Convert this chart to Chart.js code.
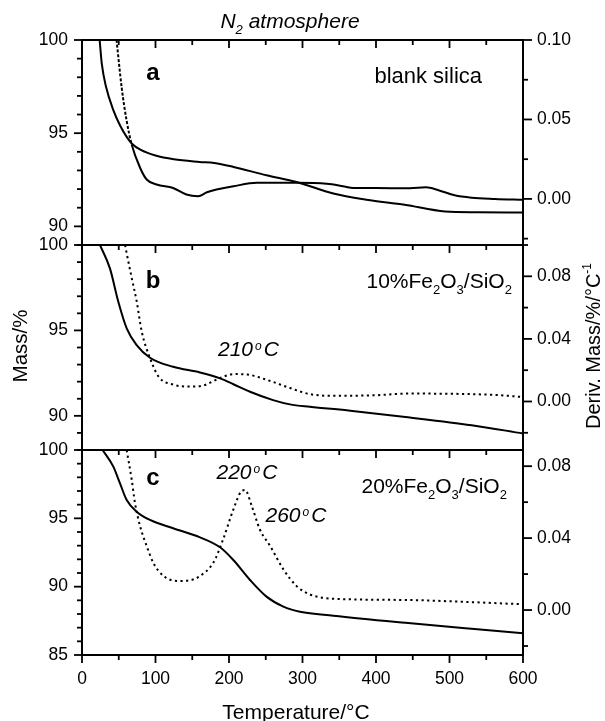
<!DOCTYPE html>
<html>
<head>
<meta charset="utf-8">
<title>TGA under N2</title>
<script src="https://cdn.jsdelivr.net/npm/chart.js@4.4.1/dist/chart.umd.min.js"></script>
<style>
	html, body { margin: 0; padding: 0; background: #fff; }
	#wrap { position: relative; width: 605px; height: 721px; }
</style>
</head>
<body>
<div id="wrap"><canvas id="tga"></canvas></div>
<script>
const FONT = '"Liberation Sans", Arial, Helvetica, sans-serif';

// tick labels
const tempTicks = [0, 100, 200, 300, 400, 500, 600];
const massTicks = [85, 90, 95, 100];
const derivTicksA = [0.00, 0.05, 0.10];
const derivTicksBC = [0.00, 0.04, 0.08];

// (a) blank silica
const massTempA = [24, 27, 32.6, 42.6, 52, 60.8, 67.6, 80, 100, 125, 160, 180, 206, 251, 292, 342, 387, 439, 494, 539, 600];
const massA = [100, 98.7, 97.5, 96.24, 95.4, 94.8, 94.45, 94.1, 93.8, 93.6, 93.46, 93.4, 93.19, 92.74, 92.38, 91.76, 91.43, 91.16, 90.8, 90.76, 90.74];
const derivTempA = [47, 54, 60.8, 67.6, 79, 88, 101.6, 124, 142, 158, 170, 183, 206, 238, 292, 333, 355, 369, 400, 446, 468, 485, 507, 530, 562, 600];
const derivA = [0.100, 0.070, 0.049, 0.0343, 0.0196, 0.0122, 0.0091, 0.0069, 0.0028, 0.0017, 0.0042, 0.0059, 0.0080, 0.0101, 0.0101, 0.0095, 0.0080, 0.0069, 0.0068, 0.0067, 0.0073, 0.0055, 0.0023, 0.0008, 0.0000, -0.0006];

// (b) 10% Fe2O3/SiO2
const massTempB = [24.5, 38, 49.4, 60.8, 74.4, 92.5, 124, 160.5, 188, 206, 228.6, 260, 283, 310, 365, 440, 530, 600];
const massB = [100, 98.63, 96.68, 95.12, 94.14, 93.4, 92.87, 92.54, 92.19, 91.85, 91.41, 90.92, 90.67, 90.53, 90.3, 89.93, 89.45, 88.97];
const derivTempB = [58.5, 67.6, 74.4, 81.2, 92.5, 104, 124.7, 143, 160.5, 188, 206, 225, 251, 283, 310, 342, 400, 446, 480, 530, 570, 600];
const derivB = [0.100, 0.079, 0.064, 0.0448, 0.0278, 0.016, 0.0107, 0.0096, 0.0098, 0.015, 0.0175, 0.0172, 0.0139, 0.0086, 0.0047, 0.0036, 0.0040, 0.0051, 0.0050, 0.0047, 0.0040, 0.0028];

// (c) 20% Fe2O3/SiO2
const massTempC = [28, 42.6, 51.7, 60.8, 74.4, 92.5, 124, 160.5, 187.8, 205.9, 228.6, 251, 274, 296.6, 342, 440, 530, 600];
const massC = [100, 98.78, 97.56, 96.34, 95.49, 94.88, 94.27, 93.61, 92.88, 91.95, 90.49, 89.27, 88.54, 88.17, 87.88, 87.36, 86.92, 86.59];
const derivTempC = [60.8, 67.6, 72, 79, 88, 97, 111, 133, 151, 160.5, 178.6, 192, 206, 217, 222, 231, 242, 256, 274, 292, 310, 342, 440, 530, 600];
const derivC = [0.089, 0.0726, 0.0597, 0.0467, 0.0356, 0.0263, 0.0189, 0.0161, 0.017, 0.0189, 0.0263, 0.0393, 0.056, 0.0661, 0.0667, 0.0578, 0.0448, 0.0356, 0.0226, 0.0133, 0.0087, 0.0063, 0.0056, 0.0044, 0.0032];

const series = (temps, vals) => temps.map((t, i) => ({ x: t, y: vals[i] }));

const stepTicks = (lo, hi, step) => {
	const out = [];
	for (let k = Math.ceil(lo / step - 1e-9); k * step <= hi + 1e-9; k++) out.push(+(k * step).toFixed(6));
	return out;
};
const inList = (list, v) => list.some(m => Math.abs(m - v) < 1e-9);

// major/minor step per axis, used both for labels and for the tick marks
const tickSteps = {
	x: { major: 100, minor: 50 },
	yA: { major: 5, minor: 1 }, yB: { major: 5, minor: 1 }, yC: { major: 5, minor: 1 },
	dA: { major: 0.05, minor: 0.025 }, dB: { major: 0.04, minor: 0.02 }, dC: { major: 0.04, minor: 0.02 }
};

const tickFont = { family: FONT, size: 17.5 };

function massAxis(id, weight, lo, hi) {
	return {
		type: 'linear', position: 'left', stack: 'mass', stackWeight: 1, weight: weight,
		min: lo, max: hi,
		afterBuildTicks: s => { s.ticks = stepTicks(lo, hi, tickSteps[id].minor).map(v => ({ value: v })); },
		afterFit: s => { s.width = 82; },
		ticks: { autoSkip: false, padding: 14, color: '#000', font: tickFont,
			callback: v => inList(massTicks, v) ? String(Math.round(v)) : '' },
		grid: { display: false, drawTicks: false },
		border: { color: '#000', width: 2 }
	};
}

function derivAxis(id, weight, lo, hi, labels) {
	return {
		type: 'linear', position: 'right', stack: 'deriv', stackWeight: 1, weight: weight,
		min: lo, max: hi,
		afterBuildTicks: s => { s.ticks = stepTicks(lo, hi, tickSteps[id].minor).map(v => ({ value: v })); },
		afterFit: s => { s.width = 82; },
		ticks: { autoSkip: false, padding: 14, color: '#000', font: tickFont,
			callback: v => inList(labels, v) ? Math.abs(v).toFixed(2) : '' },
		grid: { display: false, drawTicks: false },
		border: { color: '#000', width: 2 }
	};
}

// text with sub/superscripts: parts drawn one after another on a baseline
function drawRich(ctx, parts, x, y, align) {
	let w = 0;
	parts.forEach(p => {
		ctx.font = (p.style || '') + ' ' + p.size + 'px ' + FONT;
		p.w = ctx.measureText(p.t).width + (p.gap || 0);
		w += p.w;
	});
	let cx = align === 'right' ? x - w : align === 'center' ? x - w / 2 : x;
	ctx.textAlign = 'left';
	ctx.textBaseline = 'alphabetic';
	parts.forEach(p => {
		ctx.font = (p.style || '') + ' ' + p.size + 'px ' + FONT;
		ctx.fillText(p.t, cx + (p.pre || 0), y + (p.dy || 0));
		cx += p.w;
	});
}

const fe2o3 = pct => [
	{ t: pct + '%Fe', size: 21 }, { t: '2', size: 13, dy: 6 },
	{ t: 'O', size: 21 }, { t: '3', size: 13, dy: 6 },
	{ t: '/SiO', size: 21 }, { t: '2', size: 13, dy: 6 }
];
const degC = num => [
	{ t: num, size: 21, style: 'italic', gap: 2 },
	{ t: 'o', size: 12, style: 'italic', dy: -6, gap: 2 },
	{ t: 'C', size: 21, style: 'italic' }
];

const framePlugin = {
	id: 'frame',
	afterDraw(chart) {
		const ctx = chart.ctx;
		const area = chart.chartArea;
		const xs = chart.scales.x;
		ctx.save();
		ctx.strokeStyle = '#000';
		ctx.fillStyle = '#000';

		// panel separators
		ctx.lineWidth = 2;
		['yA', 'yB', 'yC'].forEach(id => {
			const y = chart.scales[id].top;
			ctx.beginPath();
			ctx.moveTo(area.left - 1, y);
			ctx.lineTo(area.right + 1, y);
			ctx.stroke();
		});

		// tick marks: long for labelled steps, short in between
		ctx.lineWidth = 1.8;
		const isMajor = (id, v) => Math.abs(v / tickSteps[id].major - Math.round(v / tickSteps[id].major)) < 1e-6;
		const seg = (x1, y1, x2, y2) => { ctx.beginPath(); ctx.moveTo(x1, y1); ctx.lineTo(x2, y2); ctx.stroke(); };
		['yA', 'yB', 'yC'].forEach(id => {
			const s = chart.scales[id];
			s.ticks.forEach(t => {
				const py = s.getPixelForValue(t.value);
				seg(s.right - (isMajor(id, t.value) ? 8 : 5), py, s.right, py);
			});
		});
		['dA', 'dB', 'dC'].forEach(id => {
			const s = chart.scales[id];
			s.ticks.forEach(t => {
				const py = s.getPixelForValue(t.value);
				seg(s.left, py, s.left + (isMajor(id, t.value) ? 9 : 5), py);
			});
		});
		const tops = ['yA', 'yB', 'yC'].map(id => chart.scales[id].top);
		xs.ticks.forEach(t => {
			const px = xs.getPixelForValue(t.value);
			const len = isMajor('x', t.value) ? 8 : 5;
			tops.forEach(y => seg(px, y, px, y + len));
			seg(px, area.bottom, px, area.bottom + len);
		});

		// titles and annotations
		drawRich(ctx, [
			{ t: 'N', size: 21, style: 'italic' }, { t: '2', size: 13, style: 'italic', dy: 6 },
			{ t: ' atmosphere', size: 21, style: 'italic' }
		], 290, 28, 'center');
		drawRich(ctx, [{ t: 'Temperature/°C', size: 21 }], 296, 719, 'center');

		ctx.save();
		ctx.translate(27, 346);
		ctx.rotate(-Math.PI / 2);
		drawRich(ctx, [{ t: 'Mass/%', size: 20.5 }], 0, 0, 'center');
		ctx.restore();

		ctx.save();
		ctx.translate(600, 346);
		ctx.rotate(-Math.PI / 2);
		drawRich(ctx, [{ t: 'Deriv. Mass/%/°C', size: 20 }, { t: '-1', size: 12, dy: -9 }], 0, 0, 'center');
		ctx.restore();

		drawRich(ctx, [{ t: 'a', size: 24, style: 'bold' }], 153, 80, 'center');
		drawRich(ctx, [{ t: 'b', size: 24, style: 'bold' }], 153, 287.5, 'center');
		drawRich(ctx, [{ t: 'c', size: 24, style: 'bold' }], 153, 485, 'center');

		drawRich(ctx, [{ t: 'blank silica', size: 22 }], 482, 83, 'right');
		drawRich(ctx, fe2o3('10'), 366.5, 287.5, 'left');
		drawRich(ctx, fe2o3('20'), 361.5, 493, 'left');

		drawRich(ctx, degC('210'), 218, 355.5, 'left');
		drawRich(ctx, degC('220'), 216.5, 479, 'left');
		drawRich(ctx, degC('260'), 265.5, 521.5, 'left');
		ctx.restore();
	}
};

const solid = { borderColor: '#000', borderWidth: 2, pointRadius: 0, fill: false, cubicInterpolationMode: 'monotone' };
const dotted = Object.assign({}, solid, { borderWidth: 2, borderDash: [2.2, 3.4] });

new Chart(document.getElementById('tga'), {
	type: 'line',
	data: {
		datasets: [
			Object.assign({ data: series(massTempA, massA), yAxisID: 'yA' }, solid),
			Object.assign({ data: series(derivTempA, derivA), yAxisID: 'dA' }, solid, {
				segment: { borderDash: c => c.p1.parsed.x <= 67.6 ? [3, 1.8] : undefined }
			}),
			Object.assign({ data: series(massTempB, massB), yAxisID: 'yB' }, solid),
			Object.assign({ data: series(derivTempB, derivB), yAxisID: 'dB' }, dotted),
			Object.assign({ data: series(massTempC, massC), yAxisID: 'yC' }, solid),
			Object.assign({ data: series(derivTempC, derivC), yAxisID: 'dC' }, dotted)
		]
	},
	options: {
		responsive: true,
		maintainAspectRatio: false,
		animation: false,
		events: [],
		layout: { padding: { top: 40, left: 0, right: 0, bottom: 0 } },
		scales: {
			x: {
				type: 'linear', position: 'bottom', min: 0, max: 600,
				afterBuildTicks: s => { s.ticks = stepTicks(0, 600, tickSteps.x.minor).map(v => ({ value: v })); },
				afterFit: s => { s.height = 66; },
				ticks: { autoSkip: false, maxRotation: 0, padding: 14, color: '#000', font: tickFont,
					callback: v => inList(tempTicks, v) ? String(v) : '' },
				grid: { display: false, drawTicks: false },
				border: { color: '#000', width: 2 }
			},
			yA: massAxis('yA', 3, 89, 100),
			yB: massAxis('yB', 2, 88, 100),
			yC: massAxis('yC', 1, 85, 100),
			dA: derivAxis('dA', 1, -0.029, 0.100, derivTicksA),
			dB: derivAxis('dB', 2, -0.031, 0.100, derivTicksBC),
			dC: derivAxis('dC', 3, -0.025, 0.089, derivTicksBC)
		},
		plugins: {
			legend: { display: false },
			tooltip: { enabled: false }
		}
	},
	plugins: [framePlugin]
});
</script>
</body>
</html>
